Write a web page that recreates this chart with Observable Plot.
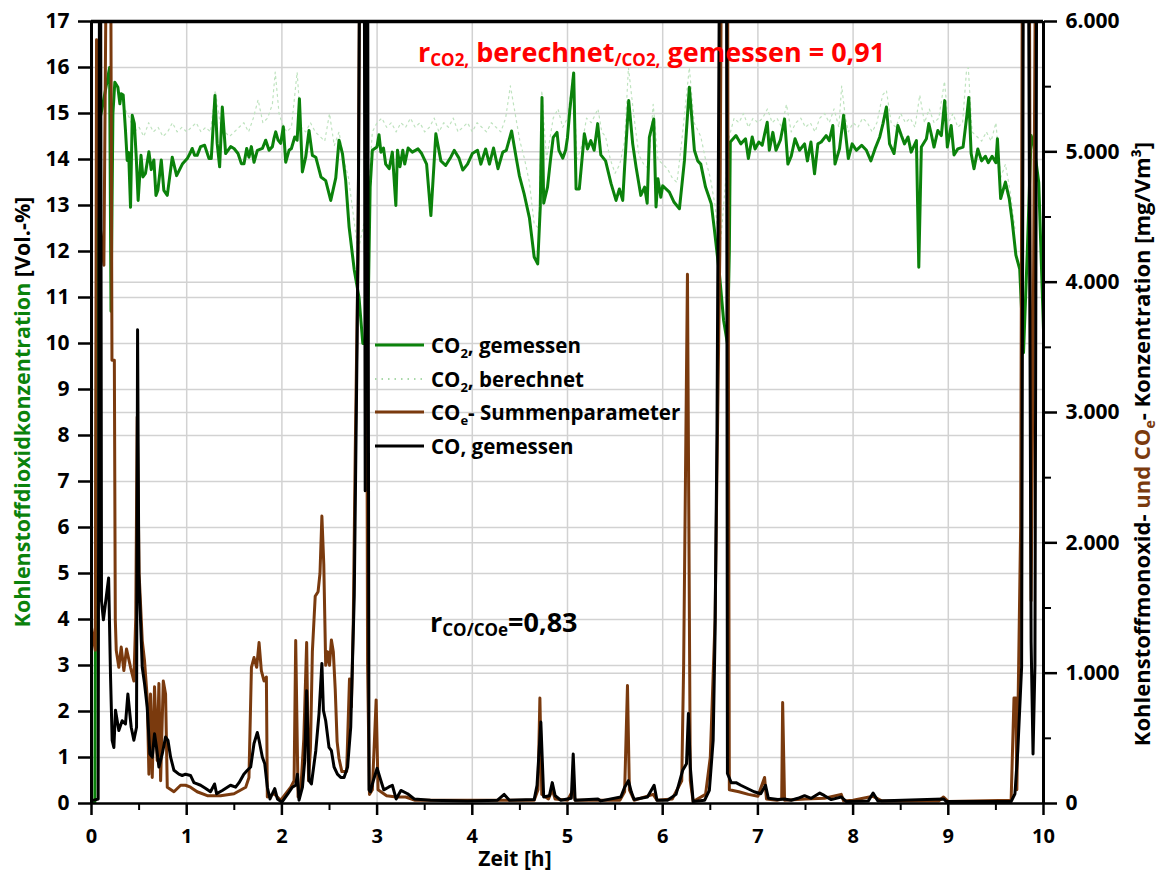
<!DOCTYPE html>
<html>
<head>
<meta charset="utf-8">
<script src="https://cdn.jsdelivr.net/npm/d3@7"></script>
<script src="https://cdn.jsdelivr.net/npm/@observablehq/plot@0.6"></script>
<style>
  html, body { margin: 0; padding: 0; background: #fff; }
  #chart { position: relative; width: 1159px; height: 872px; overflow: hidden; }
  #chart svg text { font-weight: 700; }
</style>
</head>
<body>
<div id="chart"></div>
<script>
// ---------- data ----------
// time [h], CO2 measured [Vol.-%]
const co2Gemessen = [
[0,0],[0.035,0],[0.06,14.6],[0.11,15.1],[0.19,16.0],[0.205,10.7],[0.225,15.0],[0.245,15.68],[0.277,15.57],[0.298,15.21],
[0.312,15.43],[0.333,15.4],[0.357,14.63],[0.375,13.98],[0.39,14.15],[0.41,12.96],[0.428,14.96],[0.45,14.78],[0.47,14.05],[0.49,13.11],
[0.52,14.09],[0.54,13.62],[0.567,13.7],[0.603,14.17],[0.627,13.78],[0.655,13.99],[0.677,13.22],[0.697,13.33],[0.733,13.99],[0.76,13.33],
[0.796,13.22],[0.848,14.05],[0.894,13.65],[0.954,13.9],[1.006,14.02],[1.034,14.13],[1.058,14.24],[1.083,14.09],[1.11,14.09],[1.146,14.28],
[1.188,14.31],[1.234,14.02],[1.258,14.02],[1.297,15.39],[1.32,14.35],[1.346,13.84],[1.374,15.14],[1.409,14.13],[1.462,14.28],[1.497,14.24],
[1.539,14.13],[1.574,13.91],[1.602,13.91],[1.63,14.24],[1.654,14.05],[1.679,14.28],[1.707,13.94],[1.742,14.2],[1.795,14.24],[1.83,14.42],
[1.865,14.2],[1.9,14.28],[1.917,14.46],[1.935,14.6],[1.96,14.42],[1.987,14.35],[2.015,14.71],[2.04,13.94],[2.075,14.2],[2.1,14.24],
[2.135,14.49],[2.16,14.42],[2.184,15.32],[2.215,13.73],[2.25,14.05],[2.285,14.63],[2.32,14.09],[2.356,14.05],[2.41,13.62],[2.46,13.54],
[2.513,13.11],[2.566,13.6],[2.6,14.42],[2.636,14.13],[2.67,13.54],[2.706,12.53],[2.76,11.6],[2.81,11.0],[2.85,10.0],[2.9,10.0],
[2.927,13.4],[2.95,14.2],[2.998,14.27],[3.02,14.54],[3.04,14.16],[3.067,14.25],[3.09,13.9],[3.127,13.8],[3.16,14.16],[3.197,13.0],
[3.214,14.2],[3.24,13.84],[3.27,14.2],[3.29,13.9],[3.326,14.25],[3.37,14.16],[3.43,14.23],[3.468,14.13],[3.52,13.9],[3.565,12.78],
[3.617,14.56],[3.67,13.97],[3.72,13.87],[3.774,14.05],[3.81,14.2],[3.86,14.03],[3.9,13.77],[3.95,13.9],[4.0,14.13],[4.055,14.2],
[4.09,13.9],[4.14,14.23],[4.18,13.9],[4.223,14.25],[4.27,13.8],[4.32,14.16],[4.357,14.2],[4.413,14.62],[4.46,14.05],[4.494,13.65],
[4.546,13.24],[4.6,12.73],[4.65,11.88],[4.687,11.73],[4.714,12.97],[4.732,15.35],[4.75,13.05],[4.79,13.4],[4.82,13.97],[4.85,14.48],
[4.89,14.59],[4.91,14.2],[4.95,14.03],[4.98,14.2],[5.0,14.48],[5.024,15.06],[5.065,15.88],[5.09,13.36],[5.124,13.36],[5.177,14.56],
[5.21,14.23],[5.245,14.41],[5.28,14.2],[5.317,14.78],[5.35,14.1],[5.4,13.97],[5.457,13.48],[5.51,13.11],[5.545,13.36],[5.58,13.11],
[5.6,13.84],[5.643,15.28],[5.685,14.34],[5.72,13.84],[5.77,13.22],[5.81,13.4],[5.837,13.05],[5.86,14.48],[5.906,14.88],[5.93,12.97],
[5.95,13.58],[5.98,13.18],[6.0,13.43],[6.07,13.29],[6.12,13.07],[6.176,12.93],[6.228,13.97],[6.28,15.57],[6.333,14.2],[6.368,13.97],
[6.4,13.9],[6.45,13.4],[6.51,13.04],[6.54,12.53],[6.596,11.51],[6.64,10.5],[6.68,10.0],[6.7,12.0],[6.71,14.38],[6.77,14.52],
[6.82,14.34],[6.87,14.45],[6.9,14.02],[6.94,14.49],[6.97,14.23],[7.01,14.38],[7.045,14.31],[7.098,14.81],[7.12,14.2],[7.157,14.59],
[7.19,14.2],[7.236,14.42],[7.28,14.88],[7.315,13.9],[7.35,14.07],[7.39,14.45],[7.437,14.2],[7.49,14.34],[7.52,13.97],[7.557,14.38],
[7.595,13.69],[7.63,14.34],[7.665,14.38],[7.717,14.52],[7.75,14.41],[7.787,14.74],[7.81,13.9],[7.857,14.23],[7.9,14.96],[7.95,14.02],
[7.99,14.34],[8.034,14.2],[8.09,14.31],[8.14,14.2],[8.187,13.97],[8.23,14.23],[8.28,14.49],[8.314,14.78],[8.35,15.14],[8.383,14.34],
[8.43,14.13],[8.47,14.74],[8.507,14.52],[8.54,14.34],[8.577,14.49],[8.61,14.16],[8.665,14.41],[8.69,11.66],[8.717,14.27],[8.77,14.45],
[8.795,14.78],[8.82,14.56],[8.85,14.27],[8.89,14.63],[8.927,14.52],[8.962,15.28],[8.99,14.27],[9.03,14.74],[9.06,14.1],[9.1,14.23],
[9.155,14.27],[9.197,14.99],[9.215,15.35],[9.24,14.13],[9.27,13.8],[9.31,14.23],[9.35,13.97],[9.39,14.07],[9.42,13.93],[9.46,14.07],
[9.5,13.93],[9.516,14.45],[9.55,13.15],[9.6,13.51],[9.64,13.15],[9.67,12.68],[9.71,11.92],[9.75,11.62],[9.79,9.8],[9.83,12.0],
[9.87,14.52],[9.9,14.3],[9.95,13.5],[10.0,10.3]
];
// time [h], CO2 calculated [Vol.-%]
const co2Berechnet = [
[0.3,15.3],[0.35,15.1],[0.4,14.9],[0.45,14.6],[0.5,14.7],[0.55,14.5],[0.6,14.8],[0.65,14.6],[0.7,14.7],[0.75,14.5],
[0.8,14.6],[0.85,14.8],[0.9,14.6],[0.95,14.7],[1.0,14.6],[1.05,14.7],[1.1,14.8],[1.15,14.6],[1.2,14.7],[1.25,14.6],
[1.3,15.5],[1.35,14.8],[1.4,14.6],[1.45,14.5],[1.5,14.6],[1.55,14.7],[1.6,14.8],[1.65,14.6],[1.7,14.9],[1.75,15.3],
[1.8,14.8],[1.85,14.9],[1.9,15.2],[1.93,15.9],[1.97,15.0],[2.0,14.8],[2.05,14.6],[2.1,14.7],[2.16,15.9],[2.2,14.7],
[2.25,14.6],[2.3,14.8],[2.35,14.6],[2.4,14.5],[2.45,14.4],[2.5,15.0],[2.55,14.3],[2.6,14.6],[2.65,14.0],[2.7,13.6],
[2.75,12.8],[2.8,12.0],[2.9,13.0],[2.95,14.6],[3.0,14.8],[3.05,14.9],[3.1,14.7],[3.15,14.8],[3.2,14.6],[3.25,14.8],
[3.3,14.7],[3.35,14.9],[3.4,14.7],[3.45,14.8],[3.5,14.6],[3.55,14.7],[3.6,14.9],[3.65,14.6],[3.7,14.8],[3.75,14.7],
[3.8,14.9],[3.85,14.6],[3.9,14.7],[3.95,14.8],[4.0,14.6],[4.05,14.8],[4.1,14.7],[4.15,14.6],[4.2,14.8],[4.25,14.7],
[4.3,14.6],[4.35,14.9],[4.4,15.6],[4.45,15.0],[4.5,14.4],[4.55,14.0],[4.6,13.5],[4.65,12.6],[4.7,12.5],[4.73,15.5],
[4.78,14.0],[4.85,14.9],[4.9,15.1],[4.95,14.7],[5.0,14.9],[5.06,15.9],[5.1,14.0],[5.15,14.3],[5.2,14.9],[5.25,14.8],
[5.32,15.1],[5.36,14.6],[5.4,14.5],[5.45,14.0],[5.5,13.7],[5.55,13.9],[5.6,14.4],[5.64,16.0],[5.7,14.9],[5.75,14.1],
[5.8,13.9],[5.85,13.8],[5.9,15.2],[5.95,14.0],[6.0,13.9],[6.05,13.8],[6.1,13.6],[6.15,13.5],[6.2,14.4],[6.28,16.0],
[6.33,14.8],[6.4,14.5],[6.45,14.0],[6.5,13.6],[6.55,13.0],[6.6,12.0],[6.7,14.5],[6.75,14.9],[6.8,14.8],[6.85,15.0],
[6.9,14.7],[6.95,14.9],[7.0,14.8],[7.05,14.9],[7.1,15.1],[7.15,14.8],[7.2,14.9],[7.25,14.7],[7.3,15.2],[7.35,14.6],
[7.4,14.8],[7.45,14.9],[7.5,14.7],[7.55,14.8],[7.6,14.6],[7.65,14.9],[7.7,15.0],[7.75,14.8],[7.8,15.1],[7.85,14.7],
[7.88,15.6],[7.92,14.9],[7.95,14.6],[8.0,14.8],[8.05,14.7],[8.1,14.9],[8.15,14.8],[8.2,14.6],[8.25,14.8],[8.31,15.4],
[8.35,15.5],[8.4,14.8],[8.45,14.7],[8.5,15.0],[8.55,14.8],[8.6,14.9],[8.65,14.7],[8.7,15.4],[8.75,14.8],[8.8,15.1],
[8.85,14.8],[8.9,14.9],[8.96,15.7],[9.0,14.8],[9.05,15.0],[9.1,14.7],[9.15,14.8],[9.19,15.9],[9.21,16.0],[9.25,14.6],
[9.3,14.5],[9.35,14.4],[9.4,14.6],[9.45,14.4],[9.5,14.8],[9.55,13.6],[9.6,13.9],[9.65,13.3],[9.7,12.5]
];
// time [h], COe sum parameter [mg/Vm³]
const coeSumme = [
[0,1350],[0.04,1175],[0.053,5860],[0.074,4555],[0.13,4130],[0.16,7000],[0.2,7000],[0.215,3400],[0.24,3400],[0.25,1410],
[0.26,1175],[0.287,1045],[0.312,1200],[0.34,1020],[0.368,1185],[0.41,1045],[0.445,940],[0.465,1430],[0.48,2965],[0.5,1765],
[0.533,1250],[0.557,1095],[0.585,815],[0.603,225],[0.62,840],[0.638,200],[0.662,895],[0.69,330],[0.708,920],[0.726,175],
[0.754,940],[0.778,840],[0.796,125],[0.866,90],[0.936,140],[0.988,140],[1.04,125],[1.11,90],[1.216,60],[1.356,60],
[1.497,75],[1.62,125],[1.654,200],[1.68,1045],[1.707,1120],[1.735,1045],[1.76,1235],[1.784,1020],[1.812,940],[1.837,970],
[1.847,50],[1.917,75],[1.988,25],[2.093,125],[2.128,175],[2.145,1250],[2.17,50],[2.2,125],[2.23,495],[2.26,1235],
[2.28,175],[2.3,425],[2.32,1165],[2.35,1590],[2.38,1625],[2.4,1765],[2.42,2205],[2.44,1835],[2.46,1060],[2.48,1165],
[2.5,1060],[2.52,1255],[2.54,1165],[2.56,880],[2.58,475],[2.6,345],[2.63,245],[2.68,245],[2.71,955],[2.73,740],
[2.75,1410],[2.77,2680],[2.8,4235],[2.82,7000],[2.88,7000],[2.9,1060],[2.92,70],[2.95,105],[2.99,795],[3.01,105],
[3.1,60],[3.2,50],[3.3,50],[3.4,25],[4.65,25],[4.69,105],[4.71,810],[4.73,70],[4.8,35],[4.84,105],
[4.87,35],[5.0,25],[5.06,105],[5.08,25],[5.55,25],[5.6,90],[5.63,905],[5.65,105],[5.7,25],[5.9,70],
[5.94,25],[6.1,35],[6.2,175],[6.22,1060],[6.26,4060],[6.29,175],[6.32,15],[6.45,70],[6.5,355],[6.55,1410],
[6.6,4235],[6.62,7000],[6.68,7000],[6.7,105],[6.8,90],[6.9,70],[7.0,55],[7.07,200],[7.09,35],[7.2,25],
[7.25,35],[7.26,775],[7.28,25],[7.5,35],[7.7,40],[7.875,70],[7.9,20],[8.0,25],[8.21,55],[8.3,20],
[8.9,20],[8.95,50],[9.0,15],[9.66,25],[9.69,810],[9.71,810],[9.72,105],[9.76,2120],[9.78,7000],[9.85,7000],[9.87,1555],
[9.89,3355],[9.92,7000],[10,7000]
];
// time [h], CO measured [mg/Vm³]
const coGemessen = [
[0,20],[0.07,35],[0.085,7000],[0.095,7000],[0.105,1555],[0.125,1410],[0.18,1730],[0.2,970],[0.217,485],[0.235,430],
[0.252,715],[0.287,560],[0.322,635],[0.357,610],[0.382,840],[0.417,585],[0.445,485],[0.473,585],[0.484,3635],[0.497,1765],
[0.533,1045],[0.557,920],[0.585,740],[0.613,380],[0.638,355],[0.662,535],[0.683,430],[0.708,280],[0.743,380],[0.778,510],
[0.803,485],[0.831,355],[0.866,255],[0.918,225],[0.953,215],[0.988,225],[1.04,215],[1.076,160],[1.11,150],[1.146,140],
[1.2,115],[1.25,90],[1.293,150],[1.314,75],[1.374,100],[1.46,140],[1.514,125],[1.55,160],[1.6,225],[1.637,255],
[1.672,280],[1.707,460],[1.742,545],[1.76,485],[1.795,355],[1.82,305],[1.847,125],[1.875,35],[1.9,75],[1.925,115],
[1.953,35],[2.0,10],[2.064,75],[2.11,125],[2.145,140],[2.163,225],[2.18,25],[2.216,125],[2.24,330],[2.26,865],
[2.286,175],[2.31,150],[2.356,405],[2.39,690],[2.42,1075],[2.436,715],[2.46,635],[2.495,430],[2.52,405],[2.548,280],
[2.583,225],[2.618,200],[2.653,200],[2.69,280],[2.723,585],[2.76,1590],[2.79,3530],[2.805,4835],[2.82,7000],[2.865,7000],
[2.875,2400],[2.885,7000],[2.9,7000],[2.915,105],[2.93,90],[2.96,175],[3.0,270],[3.04,175],[3.07,105],[3.12,125],
[3.16,140],[3.2,35],[3.25,100],[3.32,75],[3.39,35],[3.56,25],[3.95,20],[4.265,25],[4.335,70],[4.39,25],
[4.65,30],[4.68,140],[4.72,625],[4.75,50],[4.81,60],[4.84,160],[4.87,60],[4.93,25],[5.04,40],[5.06,380],
[5.08,25],[5.32,35],[5.35,20],[5.56,50],[5.6,125],[5.64,175],[5.67,90],[5.7,30],[5.84,50],[5.91,140],
[5.94,25],[6.05,25],[6.14,70],[6.21,255],[6.25,305],[6.27,690],[6.29,280],[6.32,15],[6.44,25],[6.49,100],
[6.53,485],[6.55,1300],[6.57,2825],[6.6,7000],[6.67,7000],[6.68,230],[6.72,160],[6.77,160],[6.82,140],[6.89,115],
[6.96,90],[7.03,75],[7.08,140],[7.11,40],[7.21,30],[7.28,35],[7.35,25],[7.42,40],[7.49,60],[7.56,40],
[7.65,80],[7.7,60],[7.77,30],[7.875,50],[7.93,15],[8.16,20],[8.21,80],[8.26,20],[8.95,35],[8.98,15],
[9.66,15],[9.7,75],[9.73,405],[9.77,1045],[9.79,7000],[9.84,7000],[9.87,1235],[9.89,380],[9.91,1060],[9.93,7000],
[10,7000]
];

// axes / ticks
const xTicks = [0,1,2,3,4,5,6,7,8,9,10];
const xMinorTicks = [0.5,1.5,2.5,3.5,4.5,5.5,6.5,7.5,8.5,9.5];
const leftTicks = [0,1,2,3,4,5,6,7,8,9,10,11,12,13,14,15,16,17];
const rightTicks = [0,1000,2000,3000,4000,5000,6000];
const rightTickLabels = ["0","1.000","2.000","3.000","4.000","5.000","6.000"];
const rightMinorTicks = [500,1500,2500,3500,4500,5500];
const leftMax = 17, rightMax = 6000;

const legendLabels = ["CO2, gemessen","CO2, berechnet","COe- Summenparameter","CO, gemessen"];

// ---------- chart ----------
const toLeft = mg => mg * leftMax / rightMax;
const rows = a => a.map(([t, v]) => ({t, v}));

const GREEN = "#0b820b", BROWN = "#7a3a0e", LIGHT = "#bfe3bf", GRID = "#d2d2d2";
const FONT = "'Open Sans', 'Noto Sans', sans-serif";

const chart = Plot.plot({
  width: 1159, height: 872,
  marginLeft: 91, marginRight: 116, marginTop: 21, marginBottom: 69,
  x: {domain: [0, 10]},
  y: {domain: [0, leftMax]},
  style: {fontFamily: FONT, fontSize: "21px", color: "#000", background: "#fff"},
  marks: [
    Plot.ruleX(xTicks.slice(1, -1), {stroke: GRID, strokeWidth: 1.5}),
    Plot.ruleY(leftTicks.slice(1, -1), {stroke: GRID, strokeWidth: 1.5}),
    Plot.ruleY(rightTicks.slice(1, -1).map(toLeft), {stroke: GRID, strokeWidth: 1.5}),
    Plot.line(rows(co2Berechnet), {x: "t", y: "v", stroke: LIGHT, strokeWidth: 1.2, strokeDasharray: "2,4", clip: true}),
    Plot.line(rows(co2Gemessen), {x: "t", y: "v", stroke: GREEN, strokeWidth: 3, clip: true}),
    Plot.line(rows(coeSumme), {x: "t", y: d => toLeft(d.v), stroke: BROWN, strokeWidth: 3, clip: true}),
    Plot.line(rows(coGemessen), {x: "t", y: d => toLeft(d.v), stroke: "#000", strokeWidth: 3, clip: true}),
    // frame
    Plot.ruleX([0, 10], {stroke: "#000", strokeWidth: 3}),
    Plot.ruleY([0], {stroke: "#000", strokeWidth: 2.5}),
    Plot.ruleY([leftMax], {stroke: "#000", strokeWidth: 3.5}),
    // axes
    Plot.axisY(leftTicks, {anchor: "left", tickSize: 13, tickPadding: 9, strokeWidth: 2.5, label: null, fontSize: 21, fontWeight: "bold"}),
    Plot.axisX(xTicks, {anchor: "bottom", tickSize: 12, tickPadding: 13, strokeWidth: 2.5, label: null, fontSize: 20, fontWeight: "bold"}),
    Plot.axisX(xMinorTicks, {anchor: "bottom", tickSize: 7, strokeWidth: 2, text: null, label: null}),
    Plot.axisY(rightTicks.map(toLeft), {anchor: "right", tickSize: 13, tickPadding: 9, strokeWidth: 2.5, label: null, fontSize: 21, fontWeight: "bold",
      tickFormat: (d) => rightTickLabels[rightTicks.findIndex(m => Math.abs(toLeft(m) - d) < 1e-9)]}),
    Plot.axisY(rightMinorTicks.map(toLeft), {anchor: "right", tickSize: 7, strokeWidth: 2, text: null, label: null})
  ]
});

document.getElementById("chart").appendChild(chart);

// ---------- annotations ----------
const svg = d3.select(chart);
const ann = svg.append("g").attr("font-family", FONT).attr("font-weight", 700).attr("text-anchor", "start");

// left axis title
const lt = ann.append("text").attr("transform", "translate(30,412) rotate(-90)")
  .attr("text-anchor", "middle").attr("font-size", 21.5);
lt.append("tspan").attr("fill", GREEN).text("Kohlenstoffdioxidkonzentration");
lt.append("tspan").attr("fill", "#000").text(" [Vol.-%]");

// right axis title
const rt = ann.append("text").attr("transform", "translate(1150,444) rotate(-90)")
  .attr("text-anchor", "middle").attr("font-size", 22);
rt.append("tspan").attr("fill", "#000").text("Kohlenstoffmonoxid- ");
rt.append("tspan").attr("fill", BROWN).text("und CO");
rt.append("tspan").attr("fill", BROWN).attr("font-size", 14).attr("dy", 5).text("e");
rt.append("tspan").attr("fill", "#000").attr("dy", -5).text("- Konzentration [mg/Vm³]");

// x axis title
ann.append("text").attr("x", 515).attr("y", 866).attr("text-anchor", "middle").attr("font-size", 21).text("Zeit [h]");

// red correlation title
const tt = ann.append("text").attr("x", 418).attr("y", 62).attr("fill", "#ff0000").attr("font-size", 27);
tt.append("tspan").text("r");
tt.append("tspan").attr("font-size", 17).attr("dy", 4).text("CO2,");
tt.append("tspan").attr("dy", -4).text(" berechnet");
tt.append("tspan").attr("font-size", 17).attr("dy", 4).text("/CO2,");
tt.append("tspan").attr("dy", -4).text(" gemessen = 0,91");

// CO/COe correlation
const ct = ann.append("text").attr("x", 430).attr("y", 632).attr("fill", "#000").attr("font-size", 27);
ct.append("tspan").text("r");
ct.append("tspan").attr("font-size", 17).attr("dy", 4).text("CO/COe");
ct.append("tspan").attr("dy", -4).text("=0,83");

// legend
const legY = [345, 379, 412, 446];
const legStyles = [
  {stroke: GREEN, w: 3, dash: null},
  {stroke: "#a9d9a9", w: 2, dash: "1.5,5"},
  {stroke: BROWN, w: 3, dash: null},
  {stroke: "#000", w: 3, dash: null}
];
legendLabels.forEach((lab, i) => {
  const y = legY[i];
  const s = legStyles[i];
  const ln = ann.append("line").attr("x1", 375).attr("x2", 424).attr("y1", y).attr("y2", y)
    .attr("stroke", s.stroke).attr("stroke-width", s.w);
  if (s.dash) ln.attr("stroke-dasharray", s.dash);
  const t = ann.append("text").attr("x", 431).attr("y", y + 8).attr("font-size", 20.5).attr("fill", "#000");
  const m = lab.match(/^CO(2|e)?(.*)$/);
  t.append("tspan").text("CO");
  if (m[1]) {
    t.append("tspan").attr("font-size", 13).attr("dy", 5).text(m[1]);
    t.append("tspan").attr("dy", -5).text(m[2]);
  } else {
    t.append("tspan").text(m[2]);
  }
});
</script>
</body>
</html>
